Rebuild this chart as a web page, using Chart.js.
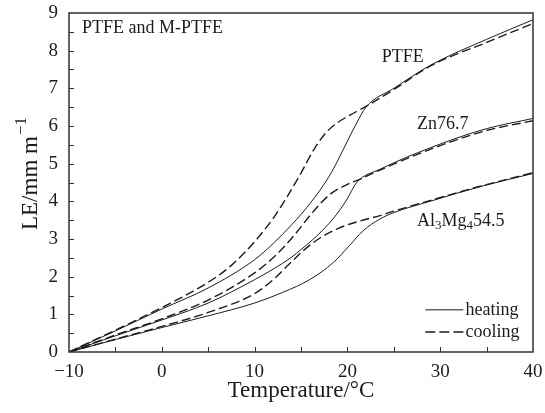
<!DOCTYPE html>
<html>
<head>
<meta charset="utf-8">
<script src="https://cdn.jsdelivr.net/npm/chart.js@4.4.1/dist/chart.umd.min.js"></script>
<style>
  html, body { margin: 0; padding: 0; background: #fff; }
  #wrap { width: 545px; height: 413px; }
</style>
</head>
<body>
<div id="wrap"><canvas id="le"></canvas></div>
<script>
// temperature (°C) vs linear expansion LE (mm/m)
const ptfeHeatT  = [-10, -5, 0, 5, 10, 12, 14, 16, 18, 19, 20, 21, 22, 25, 29, 35, 40];
const ptfeHeatLE = [0, 0.56, 1.14, 1.7, 2.45, 2.88, 3.38, 3.95, 4.65, 5.1, 5.6, 6.08, 6.5, 7.0, 7.62, 8.3, 8.82];
const ptfeCoolT  = [-10, -5, 0, 5, 7.5, 10, 12, 13.5, 15, 16.5, 17.8, 19, 20, 22, 25, 29, 35, 40];
const ptfeCoolLE = [0, 0.58, 1.18, 1.85, 2.3, 2.93, 3.55, 4.12, 4.75, 5.42, 5.85, 6.1, 6.25, 6.52, 6.97, 7.6, 8.22, 8.72];

const znHeatT  = [-10, -5, 0, 5, 10, 12, 14, 15, 16.7, 18.5, 19.9, 21, 23.5, 30, 35, 40];
const znHeatLE = [0, 0.43, 0.85, 1.3, 1.92, 2.2, 2.52, 2.72, 3.08, 3.55, 4.03, 4.5, 4.85, 5.52, 5.93, 6.2];
const znCoolT  = [-10, -5, 0, 5, 10, 12, 14, 16.3, 18.1, 20, 21.2, 23.5, 30, 35, 40];
const znCoolLE = [0, 0.45, 0.88, 1.38, 2.1, 2.5, 3.02, 3.72, 4.18, 4.45, 4.57, 4.83, 5.48, 5.88, 6.14];

const alHeatT  = [-10, -5, 0, 5, 10, 13, 16, 18.5, 20.2, 21.7, 23.5, 25, 29.3, 34.3, 40];
const alHeatLE = [0, 0.33, 0.65, 0.96, 1.3, 1.58, 1.93, 2.38, 2.82, 3.22, 3.53, 3.7, 4.03, 4.39, 4.74];
const alCoolT  = [-10, -5, 0, 5, 10, 12, 13.5, 15.2, 17, 19.2, 21.4, 23.5, 25, 29.3, 34.3, 40];
const alCoolLE = [0, 0.34, 0.68, 1.05, 1.55, 1.92, 2.28, 2.68, 3.02, 3.3, 3.48, 3.62, 3.74, 4.05, 4.4, 4.76];

const xTicks = [-10, 0, 10, 20, 30, 40];
const yTicks = [0, 1, 2, 3, 4, 5, 6, 7, 8, 9];

const serif = "'Liberation Serif', 'Times New Roman', serif";
const ink = '#1c1c1c';

function pts(xs, ys) {
    return xs.map((t, i) => ({ x: t, y: ys[i] }));
}

function series(label, xs, ys, dashed) {
    return {
        label: label,
        data: pts(xs, ys),
        borderColor: ink,
        borderWidth: dashed ? 1.4 : 1,
        borderDash: dashed ? [9, 4] : [],
        pointRadius: 0,
        fill: false,
        cubicInterpolationMode: 'monotone'
    };
}

// frame, inward ticks, y title, curve labels and legend
const decor = {
    id: 'decor',
    afterDraw(chart) {
        const { ctx, chartArea: a, scales: { x, y } } = chart;
        ctx.save();
        ctx.strokeStyle = '#333';
        ctx.lineWidth = 1.5;
        ctx.strokeRect(a.left, a.top, a.right - a.left, a.bottom - a.top);

        ctx.lineWidth = 1;
        ctx.beginPath();
        for (let t = -5; t < 40; t += 5) {
            const px = Math.round(x.getPixelForValue(t)) + 0.5;
            ctx.moveTo(px, a.bottom);
            ctx.lineTo(px, a.bottom - 5);
        }
        for (let v = 0.5; v < 9; v += 0.5) {
            const py = Math.round(y.getPixelForValue(v)) + 0.5;
            ctx.moveTo(a.left, py);
            ctx.lineTo(a.left + 5, py);
        }
        ctx.stroke();

        ctx.fillStyle = ink;

        // y axis title with a real superscript
        ctx.save();
        ctx.translate(37, 230);
        ctx.rotate(-Math.PI / 2);
        ctx.textAlign = 'left';
        ctx.textBaseline = 'alphabetic';
        ctx.font = '23px ' + serif;
        ctx.fillText('LE/mm m', 0, 0);
        const w = ctx.measureText('LE/mm m').width;
        ctx.font = '17px ' + serif;
        ctx.fillText('\u22121', w + 1, -11);
        ctx.restore();

        ctx.textBaseline = 'middle';
        ctx.textAlign = 'left';
        ctx.font = '18px ' + serif;
        ctx.fillText('PTFE and M-PTFE', x.getPixelForValue(-8.6), y.getPixelForValue(8.59));
        ctx.fillText('PTFE', x.getPixelForValue(23.7), y.getPixelForValue(7.82));
        ctx.fillText('Zn76.7', x.getPixelForValue(27.5), y.getPixelForValue(6.05));

        // Al3Mg454.5 with subscripts
        let cx = x.getPixelForValue(27.5);
        const cy = y.getPixelForValue(3.48);
        const parts = [['Al', 0], ['3', 1], ['Mg', 0], ['4', 1], ['54.5', 0]];
        parts.forEach(p => {
            ctx.font = (p[1] ? '13px ' : '18px ') + serif;
            ctx.fillText(p[0], cx, cy + (p[1] ? 5 : 0));
            cx += ctx.measureText(p[0]).width;
        });

        // legend
        ctx.font = '18px ' + serif;
        const lx0 = x.getPixelForValue(28.4), lx1 = x.getPixelForValue(32.5);
        const ly1 = y.getPixelForValue(1.12), ly2 = y.getPixelForValue(0.53);
        ctx.strokeStyle = ink;
        ctx.lineWidth = 1;
        ctx.beginPath();
        ctx.moveTo(lx0, ly1);
        ctx.lineTo(lx1, ly1);
        ctx.stroke();
        ctx.lineWidth = 1.4;
        ctx.setLineDash([10, 4]);
        ctx.beginPath();
        ctx.moveTo(lx0, ly2);
        ctx.lineTo(lx1, ly2);
        ctx.stroke();
        ctx.setLineDash([]);
        ctx.fillText('heating', lx1 + 2, ly1);
        ctx.fillText('cooling', lx1 + 2, ly2);
        ctx.restore();
    }
};

let LeChart = new Chart(document.getElementById('le'), {
    type: 'line',
    data: {
        datasets: [
            series('PTFE heating', ptfeHeatT, ptfeHeatLE, false),
            series('PTFE cooling', ptfeCoolT, ptfeCoolLE, true),
            series('Zn76.7 heating', znHeatT, znHeatLE, false),
            series('Zn76.7 cooling', znCoolT, znCoolLE, true),
            series('Al3Mg4 54.5 heating', alHeatT, alHeatLE, false),
            series('Al3Mg4 54.5 cooling', alCoolT, alCoolLE, true)
        ]
    },
    options: {
        responsive: true,
        maintainAspectRatio: false,
        animation: false,
        layout: {
            padding: { left: 0, right: 12, top: 13, bottom: 0 }
        },
        plugins: {
            legend: { display: false },
            tooltip: { enabled: false }
        },
        scales: {
            x: {
                type: 'linear',
                min: -10,
                max: 40,
                afterBuildTicks(s) { s.ticks = xTicks.map(v => ({ value: v })); },
                afterFit(s) {
                    s.height = 61;
                    s.paddingLeft = 0;
                    s.paddingRight = 0;
                },
                grid: { display: false, drawTicks: false },
                border: { display: false },
                ticks: {
                    color: ink,
                    padding: 9,
                    maxRotation: 0,
                    font: { family: serif, size: 19 },
                    callback: v => v < 0 ? '\u2212' + Math.abs(v) : String(v)
                },
                title: {
                    display: true,
                    text: 'Temperature/°C',
                    color: ink,
                    font: { family: serif, size: 23 },
                    padding: { top: 0, bottom: 8 }
                }
            },
            y: {
                min: 0,
                max: 9,
                afterBuildTicks(s) { s.ticks = yTicks.map(v => ({ value: v })); },
                afterFit(s) {
                    s.width = 69;
                    s.paddingTop = 0;
                    s.paddingBottom = 0;
                },
                grid: { display: false, drawTicks: false },
                border: { display: false },
                ticks: {
                    color: ink,
                    padding: 11,
                    font: { family: serif, size: 19 }
                }
            }
        }
    },
    plugins: [decor]
});
</script>
</body>
</html>
